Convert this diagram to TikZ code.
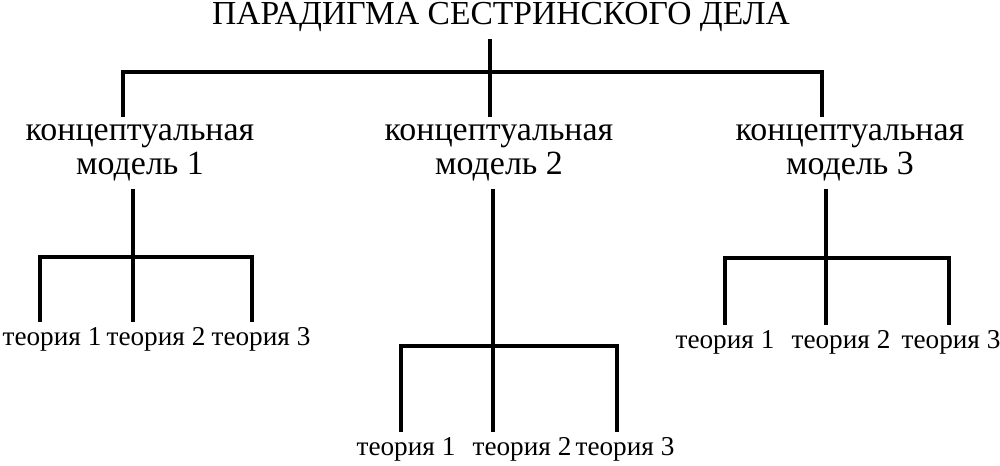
\documentclass[tikz,border=0pt]{standalone}
\usepackage{fontspec}
\setmainfont{Liberation Serif}
\begin{document}
\begin{tikzpicture}[x=0.02cm,y=-0.02cm,
  conn/.style={line width=2pt, line join=miter},
  ttl/.style={font=\fontsize{19.1}{22}\selectfont, inner sep=0pt, outer sep=4pt},
  mdl/.style={font=\fontsize{19.3}{19.9}\selectfont, align=center, inner sep=0pt, outer sep=4pt},
  thr/.style={font=\fontsize{15.5}{18}\selectfont, inner sep=0pt, outer sep=3pt}]
\useasboundingbox (0,0) rectangle (1000,466);
% nodes
\node[ttl, anchor=base] (T) at (501,25) {ПАРАДИГМА СЕСТРИНСКОГО ДЕЛА};
\node[mdl, anchor=north] (M1) at (140,117) {концептуальная\\модель 1};
\node[mdl, anchor=north] (M2) at (499,117) {концептуальная\\модель 2};
\node[mdl, anchor=north] (M3) at (850,117) {концептуальная\\модель 3};
\node[thr, anchor=base] (T11) at (52,345) {теория 1};
\node[thr, anchor=base] (T12) at (156,345) {теория 2};
\node[thr, anchor=base] (T13) at (261,345) {теория 3};
\node[thr, anchor=base] (T21) at (406,455) {теория 1};
\node[thr, anchor=base] (T22) at (522,455) {теория 2};
\node[thr, anchor=base] (T23) at (625,455) {теория 3};
\node[thr, anchor=base] (T31) at (725,348) {теория 1};
\node[thr, anchor=base] (T32) at (841,348) {теория 2};
\node[thr, anchor=base] (T33) at (951,348) {теория 3};
% junctions
\coordinate (j0) at (490,72);
\coordinate (j1) at (123,72);
\coordinate (j3) at (822,72);
\coordinate (s1) at (133,257);
\coordinate (s1l) at (40,257);
\coordinate (s1r) at (252,257);
\coordinate (s2) at (493,346);
\coordinate (s2l) at (401,346);
\coordinate (s2r) at (617,346);
\coordinate (s3) at (826,258);
\coordinate (s3l) at (725,258);
\coordinate (s3r) at (949,258);
% connectors
\draw[conn] (T.south -| j0) -- (j0) -- (M2.north -| j0);
\draw[conn] (M1.north -| j1) -- (j1) -- (j3) -- (M3.north -| j3);
\draw[conn] (M1.south -| s1) -- (s1) -- (T12.north -| s1);
\draw[conn] (T11.north -| s1l) -- (s1l) -- (s1r) -- (T13.north -| s1r);
\draw[conn] (M2.south -| s2) -- (s2) -- (T22.north -| s2);
\draw[conn] (T21.north -| s2l) -- (s2l) -- (s2r) -- (T23.north -| s2r);
\draw[conn] (M3.south -| s3) -- (s3) -- (T32.north -| s3);
\draw[conn] (T31.north -| s3l) -- (s3l) -- (s3r) -- (T33.north -| s3r);
\end{tikzpicture}
\end{document}
